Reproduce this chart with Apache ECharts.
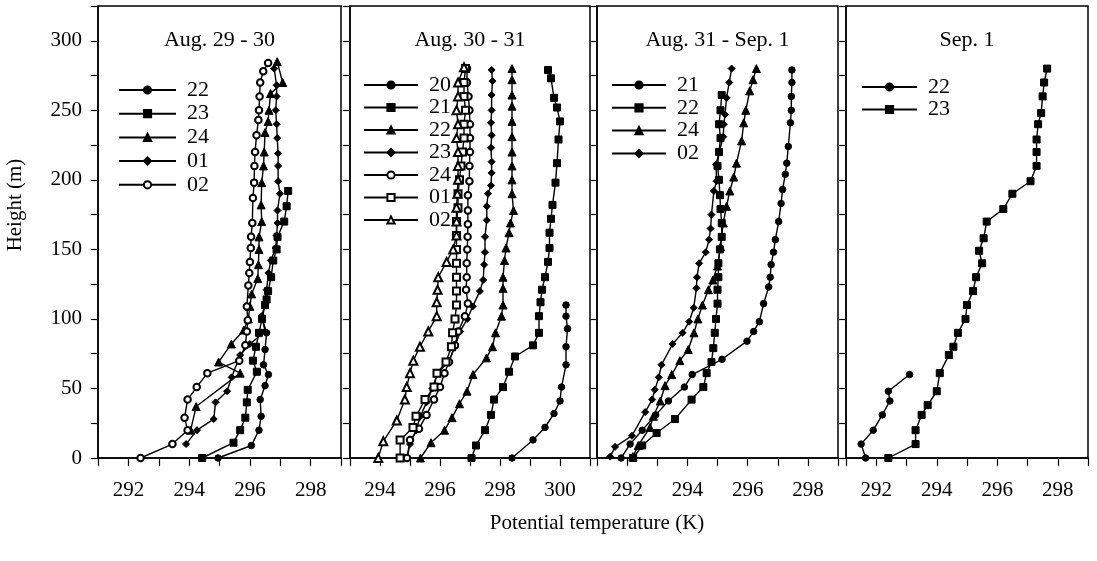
<!DOCTYPE html>
<html><head><meta charset="utf-8">
<script src="https://cdn.jsdelivr.net/npm/echarts@6/dist/echarts.min.js"></script>
<style>html,body{margin:0;padding:0;background:#fff}#c{width:1097px;height:561px}</style>
</head><body><div id="c"></div>
<script>
// ---------- DATA: [potential temperature (K), height (m)] ----------
const panelTitles = ['Aug. 29 - 30', 'Aug. 30 - 31', 'Aug. 31 - Sep. 1', 'Sep. 1'];
const xMin = [291, 293, 291, 291];
const xMax = [299, 301, 299, 299];
const yMin = 0, yMax = 325;
const xAxisName = 'Potential temperature (K)';
const yAxisName = 'Height (m)';

// Panel 1: Aug. 29 - 30
const p1_22 = [[294.95,0],[296.05,9],[296.3,20],[296.37,30],[296.34,42],[296.5,52],[296.61,60],[296.45,67],[296.5,78],[296.55,90],[296.4,101]];
const p1_23 = [[294.43,0],[295.46,11],[295.68,20],[295.85,29],[295.9,40],[295.93,49],[296.23,62],[296.1,70],[296.2,80],[296.3,90],[296.4,100],[296.5,110],[296.55,114],[296.6,120],[296.7,130],[296.77,142],[296.88,150],[296.91,159],[297.13,170],[297.21,181],[297.26,192]];
const p1_24 = [[294.05,20],[294.23,37],[295.68,61],[294.97,69],[295.39,82],[295.8,92],[295.95,100],[296.0,109],[296.06,118],[296.26,129],[296.28,139],[296.3,150],[296.3,159],[296.39,170],[296.37,182],[296.39,198],[296.45,210],[296.47,220],[296.5,234],[296.6,242],[296.63,250],[296.68,262],[297.08,270],[296.9,285]];
const p1_01 = [[293.9,10],[294.26,20],[294.81,28],[294.87,40],[295.25,48],[295.4,58],[295.68,74],[296.0,82],[296.5,91],[296.39,102],[296.55,115],[296.55,121],[296.61,133],[296.69,142],[296.85,151],[296.88,160],[296.91,169],[296.91,178],[296.99,190],[296.93,199],[296.93,210],[296.93,219],[296.9,230],[296.88,240],[296.85,250],[296.88,260],[296.88,268],[296.8,280]];
const p1_02 = [[292.4,0],[293.45,10],[293.95,20],[293.85,29],[293.95,42],[294.25,51],[294.6,61],[295.65,70],[295.85,81],[295.9,91],[295.93,99],[295.9,109],[295.95,124],[295.98,133],[296.0,141],[296.03,151],[296.04,159],[296.08,169],[296.1,187],[296.14,198],[296.15,210],[296.17,220],[296.22,232],[296.28,243],[296.3,250],[296.32,260],[296.34,270],[296.44,278],[296.6,284]];

// Panel 2: Aug. 30 - 31
const p2_20 = [[298.4,0],[299.1,13],[299.5,22],[299.8,32],[300.0,41],[300.05,51],[300.2,67],[300.2,80],[300.25,93],[300.2,102],[300.2,110]];
const p2_21 = [[297.05,0],[297.2,9],[297.5,20],[297.7,31],[297.8,42],[298.1,51],[298.3,62],[298.5,73],[299.1,81],[299.3,90],[299.3,102],[299.35,112],[299.4,121],[299.5,130],[299.6,141],[299.65,151],[299.65,162],[299.7,172],[299.75,182],[299.85,198],[299.9,212],[299.95,229],[300.0,242],[299.9,252],[299.8,259],[299.7,273],[299.6,279]];
const p2_22 = [[295.35,0],[295.7,11],[296.15,20],[296.4,29],[296.65,39],[296.9,48],[297.1,60],[297.55,72],[297.75,80],[297.85,90],[298.05,102],[298.1,110],[298.1,122],[298.1,130],[298.15,142],[298.2,151],[298.3,162],[298.35,169],[298.45,178],[298.4,190],[298.4,200],[298.4,210],[298.4,220],[298.4,231],[298.4,242],[298.4,253],[298.4,261],[298.4,272],[298.4,280]];
const p2_23 = [[294.9,0],[295.0,10],[295.2,20],[295.35,30],[295.55,40],[295.75,50],[295.9,60],[296.3,70],[296.5,80],[296.67,91],[296.91,100],[297.09,109],[297.33,120],[297.44,128],[297.47,139],[297.5,148],[297.5,159],[297.56,171],[297.56,181],[297.6,190],[297.7,196],[297.72,205],[297.72,213],[297.7,223],[297.72,232],[297.7,241],[297.72,250],[297.72,261],[297.75,271],[297.72,279]];
const p2_24 = [[294.9,0],[295.0,13],[295.3,21],[295.55,31],[295.8,42],[296.0,51],[296.15,61],[296.3,69],[296.5,81],[296.61,91],[296.83,102],[296.93,111],[296.87,121],[296.89,130],[296.89,140],[296.91,150],[296.92,159],[296.93,168],[296.93,178],[296.93,189],[296.98,199],[296.98,210],[297.0,220],[297.0,230],[297.0,240],[296.98,250],[296.95,260],[296.9,270],[296.9,280]];
const p2_01 = [[294.67,0],[294.67,13],[295.1,22],[295.2,30],[295.5,42],[295.8,51],[295.9,61],[296.2,69],[296.38,80],[296.42,90],[296.5,100],[296.55,110],[296.55,120],[296.55,130],[296.55,140],[296.55,150],[296.55,160],[296.55,170],[296.6,180],[296.6,190],[296.65,200],[296.7,210],[296.75,220],[296.8,230],[296.8,240],[296.85,250],[296.8,260],[296.8,270],[296.85,280]];
const p2_02 = [[293.94,0],[294.11,12],[294.56,27],[294.83,42],[294.89,51],[295.0,61],[295.11,70],[295.33,80],[295.61,91],[295.89,102],[295.89,112],[295.92,121],[295.94,130],[296.22,141],[296.44,150],[296.55,160],[296.55,170],[296.55,180],[296.58,190],[296.6,200],[296.6,210],[296.6,220],[296.55,230],[296.6,240],[296.55,250],[296.6,260],[296.6,270],[296.8,281]];

// Panel 3: Aug. 31 - Sep. 1
const p3_21 = [[291.8,0],[292.1,10],[292.5,20],[292.95,31],[293.37,41],[293.9,51],[294.16,60],[295.15,71],[295.98,84],[296.2,91],[296.39,98],[296.53,111],[296.7,123],[296.75,130],[296.78,139],[296.86,148],[296.92,157],[297.03,170],[297.11,183],[297.16,193],[297.25,204],[297.3,212],[297.35,224],[297.42,241],[297.45,250],[297.45,260],[297.47,270],[297.47,279]];
const p3_22 = [[292.2,0],[292.5,9],[292.98,18],[293.59,28],[294.14,42],[294.53,51],[294.64,61],[294.8,69],[294.86,79],[294.91,90],[294.95,100],[295.0,111],[295.0,121],[295.03,130],[295.03,140],[295.08,150],[295.14,159],[295.14,169],[295.1,179],[295.08,189],[295.05,200],[295.0,210],[295.05,220],[295.1,230],[295.05,240],[295.1,250],[295.14,261]];
const p3_24 = [[292.19,1],[292.37,9],[292.76,22],[292.87,30],[293.1,41],[293.26,52],[293.48,60],[293.75,70],[294.03,78],[294.22,90],[294.35,100],[294.5,110],[294.7,121],[294.85,128],[295.0,138],[295.1,152],[295.19,169],[295.3,181],[295.41,192],[295.54,202],[295.63,212],[295.8,228],[295.87,241],[295.94,250],[296.07,264],[296.18,272],[296.29,280]];
const p3_02 = [[291.44,1],[291.6,8],[292.16,16],[292.6,33],[292.83,42],[292.92,49],[293.05,58],[293.14,67],[293.51,82],[293.84,90],[294.06,98],[294.21,108],[294.3,122],[294.32,130],[294.39,140],[294.61,148],[294.72,157],[294.77,165],[294.8,175],[294.88,192],[294.97,199],[294.95,211],[295.19,231],[295.21,240],[295.25,247],[295.3,259],[295.39,270],[295.47,280]];

// Panel 4: Sep. 1
const p4_22 = [[291.65,0],[291.5,10],[291.9,20],[292.2,31],[292.45,41],[292.4,48],[293.1,60]];
const p4_23 = [[292.4,0],[293.3,10],[293.3,20],[293.5,31],[293.7,38],[294.0,48],[294.1,61],[294.4,74],[294.55,80],[294.7,90],[294.95,100],[295.0,110],[295.2,120],[295.3,130],[295.5,140],[295.4,149],[295.55,158],[295.65,170],[296.2,179],[296.5,190],[297.1,199],[297.3,210],[297.3,220],[297.3,229],[297.35,240],[297.45,248],[297.5,260],[297.55,270],[297.65,280]];

const panelSeries = [
  [['22', p1_22, 'circle'], ['23', p1_23, 'rect'], ['24', p1_24, 'triangle'], ['01', p1_01, 'diamond'], ['02', p1_02, 'emptyCircle']],
  [['20', p2_20, 'circle'], ['21', p2_21, 'rect'], ['22', p2_22, 'triangle'], ['23', p2_23, 'diamond'], ['24', p2_24, 'emptyCircle'], ['01', p2_01, 'emptyRect'], ['02', p2_02, 'emptyTriangle']],
  [['21', p3_21, 'circle'], ['22', p3_22, 'rect'], ['24', p3_24, 'triangle'], ['02', p3_02, 'diamond']],
  [['22', p4_22, 'circle'], ['23', p4_23, 'rect']]
];

// ---------- LAYOUT ----------
const FONT = '"Liberation Serif", "Times New Roman", serif';
const gridLeft = [98, 350, 597, 846];
const gridWidth = [243, 240, 241, 242];
const gridTop = 6, gridBottomY = 458;
// [left, top, itemWidth, itemGap]
const legendPos = [[113, 74, 57, 1.7], [358, 69, 54, 0.5], [606, 69, 54, 0.8], [856, 71, 55, 0.5]];

const chart = echarts.init(document.getElementById('c'), null, {renderer: 'canvas'});
const grids = [], xAxes = [], yAxes = [], series = [], legends = [], graphics = [];
for (let i = 0; i < 4; i++) {
  grids.push({left: gridLeft[i], width: gridWidth[i], top: gridTop, height: gridBottomY - gridTop,
    show: true, borderColor: '#000', borderWidth: 1.5, backgroundColor: 'transparent'});
  xAxes.push({gridIndex: i, type: 'value', min: xMin[i], max: xMax[i], interval: 1,
    axisLine: {show: true, onZero: false, lineStyle: {color: '#000', width: 1.5}},
    axisTick: {show: true, inside: false, length: 8, lineStyle: {color: '#000', width: 1.2}},
    axisLabel: {fontFamily: FONT, fontSize: 21, color: '#000', margin: 22,
      formatter: v => (Math.round(v) % 2 === 0 ? String(v) : '')},
    splitLine: {show: false}});
  yAxes.push({gridIndex: i, type: 'value', min: yMin, max: yMax, interval: 25,
    axisLine: {show: true, onZero: false, lineStyle: {color: '#000', width: 1.5}},
    axisTick: {show: true, inside: false, length: 7, lineStyle: {color: '#000', width: 1.2}},
    axisLabel: {show: i === 0, fontFamily: FONT, fontSize: 21, color: '#000', margin: 16,
      formatter: v => (v % 50 === 0 ? String(v) : '')},
    splitLine: {show: false}});
  const names = [];
  panelSeries[i].forEach(([nm, data, sym]) => {
    const id = 'p' + (i + 1) + '_' + nm;
    names.push(id);
    series.push({name: id, type: 'line', xAxisIndex: i, yAxisIndex: i, data: data,
      symbol: sym, symbolSize: sym.indexOf('riangle') >= 0 ? 8 : (sym.indexOf('ircle') >= 0 ? 6.5 : 7),
      showAllSymbol: true, clip: false,
      lineStyle: {color: '#000', width: 1.4}, itemStyle: {color: '#000', borderColor: '#000', borderWidth: 1},
      emphasis: {disabled: true}, animation: false});
  });
  legends.push({data: names, orient: 'vertical', left: legendPos[i][0], top: legendPos[i][1],
    itemWidth: legendPos[i][2], itemHeight: 9, itemGap: legendPos[i][3], selectedMode: false,
    formatter: n => n.split('_')[1],
    textStyle: {fontFamily: FONT, fontSize: 22, color: '#000', lineHeight: 22, padding: [0, 0, 0, 6]}});
  graphics.push({type: 'text', x: gridLeft[i] + gridWidth[i] / 2, y: 40,
    style: {text: panelTitles[i], font: '22px ' + FONT, fill: '#000', textAlign: 'center', textVerticalAlign: 'middle'}});
}
graphics.push({type: 'text', x: 15, y: 205, rotation: Math.PI / 2,
  style: {text: yAxisName, font: '21px ' + FONT, fill: '#000', textAlign: 'center', textVerticalAlign: 'middle'}});
graphics.push({type: 'text', x: 597, y: 523,
  style: {text: xAxisName, font: '21px ' + FONT, fill: '#000', textAlign: 'center', textVerticalAlign: 'middle'}});

chart.setOption({animation: false, backgroundColor: '#fff', grid: grids, xAxis: xAxes, yAxis: yAxes,
  series: series, legend: legends, graphic: graphics});
</script></body></html>
